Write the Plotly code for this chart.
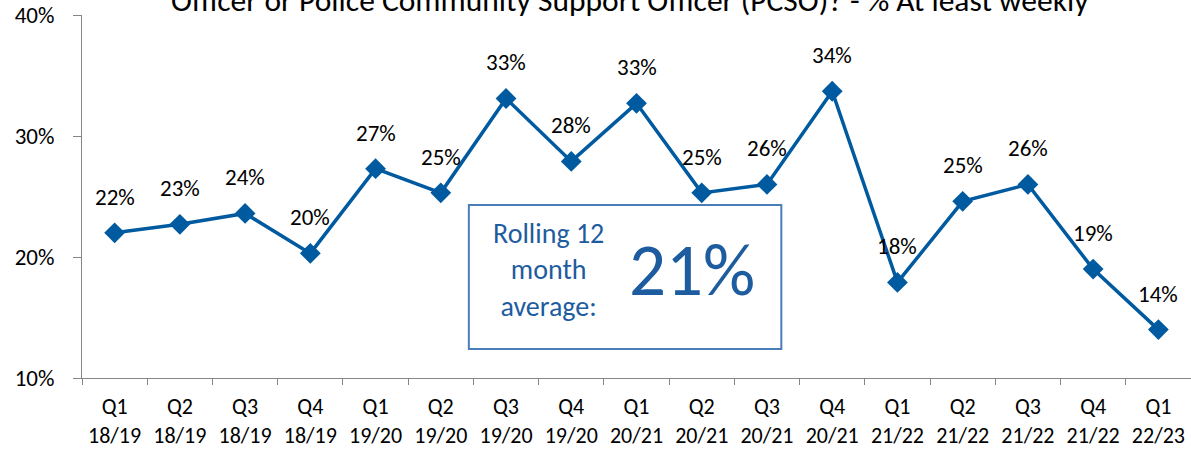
import plotly.graph_objects as go

# Quarterly share of respondents seeing an officer / PCSO at least weekly (%)
quarters = ["Q1", "Q2", "Q3", "Q4", "Q1", "Q2", "Q3", "Q4", "Q1", "Q2", "Q3", "Q4",
            "Q1", "Q2", "Q3", "Q4", "Q1"]
years = ["18/19", "18/19", "18/19", "18/19", "19/20", "19/20", "19/20", "19/20",
         "20/21", "20/21", "20/21", "20/21", "21/22", "21/22", "21/22", "21/22", "22/23"]
values = [22.0, 22.7, 23.6, 20.3, 27.3, 25.3, 33.1, 27.9, 32.7, 25.3, 26.0, 33.7,
          17.9, 24.6, 26.0, 19.0, 14.0]
y_ticks = [10, 20, 30, 40]
rolling_avg = 21

title_text = "Officer or Police Community Support Officer (PCSO)? - % At least weekly"

categories = [f"{q}<br>{y}" for q, y in zip(quarters, years)]

FONT = "Carlito, Lato, sans-serif"
LINE_BLUE = "#005AA0"
TEXT_BLUE = "#1E5CA0"
AXIS_GREY = "#868686"

fig = go.Figure()
fig.add_trace(go.Scatter(
    x=categories, y=values, mode="lines+markers",
    line=dict(color=LINE_BLUE, width=3.5),
    marker=dict(symbol="diamond", size=16, color=LINE_BLUE),
    hoverinfo="skip", showlegend=False,
))

# value labels above each point
for c, v in zip(categories, values):
    fig.add_annotation(x=c, y=v, text=f"{round(v)}%", showarrow=False,
                       yshift=36, font=dict(family=FONT, size=23, color="#000000"))

# rolling average call-out box
fig.add_shape(type="rect", xref="x", yref="y", x0=5.43, x1=10.22, y0=12.4, y1=24.3,
              line=dict(color="#4A7EBB", width=2), fillcolor="white", layer="above")
fig.add_annotation(x=6.65, y=18.9, xref="x", yref="y",
                   text="Rolling 12<br>month<br>average:", showarrow=False,
                   font=dict(family=FONT, size=28, color=TEXT_BLUE), align="center")
fig.add_annotation(x=8.85, y=18.9, xref="x", yref="y",
                   text=f"{rolling_avg}%", showarrow=False,
                   font=dict(family=FONT, size=73, color=TEXT_BLUE))

# chart title, running off the top edge
fig.add_annotation(x=(630 - 82) / 1109, xref="paper", y=1, yref="paper", yanchor="bottom",
                   text=title_text, showarrow=False, yshift=-6,
                   font=dict(family=FONT, size=31.5, color="#000000"))

fig.update_layout(
    width=1191, height=453,
    margin=dict(l=82, r=0, t=15, b=75),
    paper_bgcolor="white", plot_bgcolor="white",
    font=dict(family=FONT, size=23, color="#000000"),
)
fig.update_xaxes(
    type="category", range=[-0.5, 16.5], tickson="boundaries", automargin=False,
    ticks="outside", ticklen=6, tickcolor=AXIS_GREY, ticklabelstandoff=9,
    showline=True, linecolor=AXIS_GREY, linewidth=1, showgrid=False,
    tickfont=dict(family=FONT, size=22),
)
fig.update_yaxes(
    range=[10, 40], tickvals=y_ticks, ticktext=[f"{t}%" for t in y_ticks], automargin=False,
    ticks="outside", ticklen=8, tickcolor=AXIS_GREY, ticklabelstandoff=14,
    showline=True, linecolor=AXIS_GREY, linewidth=1, showgrid=False, zeroline=False,
    tickfont=dict(family=FONT, size=23),
)

fig.write_html("out.html")
